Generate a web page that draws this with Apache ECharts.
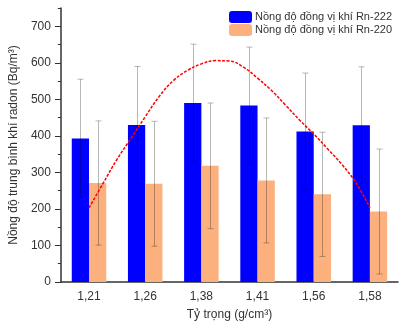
<!DOCTYPE html>
<html>
<head>
<meta charset="utf-8">
<script src="https://cdn.jsdelivr.net/npm/echarts@6/dist/echarts.min.js"></script>
<style>
  html, body { margin: 0; padding: 0; background: #fff; }
  #chart { width: 400px; height: 326px; }
</style>
</head>
<body>
<div id="chart"></div>
<script>
// tỷ trọng (g/cm3)
const categories = ['1,21', '1,26', '1,38', '1,41', '1,56', '1,58'];
// Rn-222
const rn222 = [393, 430, 490, 483, 412, 429];
const rn222Err = [162, 160, 161, 160, 160, 160];
// Rn-220
const rn220 = [271, 269, 318, 278, 240, 193];
const rn220Err = [170, 171, 172, 171, 170, 171];
// red dashed fit (x = category position)
const fitX = [0, 0.25, 0.5, 0.75, 1, 1.25, 1.5, 1.75, 2, 2.25, 2.5, 2.75, 3, 3.25, 3.5, 3.75, 4, 4.25, 4.5, 4.75, 5];
const fitY = [203, 270, 336, 394, 452, 508, 551, 579, 597, 606, 605, 588, 558, 524, 484, 443, 405, 364, 322, 272, 203];
const yTicks = [0, 100, 200, 300, 400, 500, 600, 700];

const FONT = 'Liberation Sans, Arial, sans-serif';
const BAR_W = 0.307;

const chart = echarts.init(document.getElementById('chart'));

function errorSeries(name, means, errs, side) {
  return {
    type: 'custom',
    name: name + '-err',
    xAxisIndex: 0,
    yAxisIndex: 0,
    z: 5,
    data: means.map((m, i) => [i, m, errs[i]]),
    renderItem: function (params, api) {
      const i = api.value(0), m = api.value(1), e = api.value(2);
      const band = api.size([1, 0])[0];
      const off = side * band * BAR_W / 2;
      const top = api.coord([i, m + e]);
      const bot = api.coord([i, m - e]);
      const x = Math.round(top[0] + off) + 0.5;
      const style = { stroke: 'rgba(0,0,0,0.28)', lineWidth: 1 };
      return {
        type: 'group',
        children: [
          { type: 'line', shape: { x1: x, y1: top[1], x2: x, y2: bot[1] }, style },
          { type: 'line', shape: { x1: x - 3, y1: top[1], x2: x + 3, y2: top[1] }, style },
          { type: 'line', shape: { x1: x - 3, y1: bot[1], x2: x + 3, y2: bot[1] }, style }
        ]
      };
    }
  };
}

const option = {
  animation: false,
  textStyle: { fontFamily: FONT },
  grid: { left: 56, right: 2, top: 8, bottom: 42 },
  legend: {
    orient: 'vertical',
    right: 3,
    top: 6,
    align: 'left',
    itemWidth: 23,
    itemHeight: 12,
    itemGap: 1,
    data: ['Nồng độ đồng vị khí Rn-222', 'Nồng độ đồng vị khí Rn-220'],
    textStyle: { fontFamily: FONT, fontSize: 11, color: '#333', padding: [0, 0, 0, -2] }
  },
  xAxis: [
    {
      type: 'category',
      data: categories,
      position: 'bottom',
      name: 'Tỷ trọng (g/cm³)',
      nameLocation: 'middle',
      nameGap: 27,
      nameTextStyle: { fontFamily: FONT, fontSize: 12, color: '#333' },
      axisLine: { onZero: false, lineStyle: { color: '#333', width: 1.5 } },
      axisTick: { alignWithLabel: true, length: 5, lineStyle: { color: '#333' } },
      axisLabel: { fontFamily: FONT, fontSize: 12, color: '#333', margin: 9 }
    },
    {
      type: 'category',
      data: categories,
      position: 'bottom',
      axisLine: { show: false, onZero: false },
      axisTick: { length: 2.5, lineStyle: { color: '#333' } },
      axisLabel: { show: false }
    },
    {
      type: 'value',
      min: -0.5,
      max: 5.5,
      axisLine: { onZero: false },
      show: false
    }
  ],
  yAxis: [
    {
      type: 'value',
      min: 0,
      max: 750,
      interval: 50,
      name: 'Nồng độ trung bình khí radon (Bq/m³)',
      nameLocation: 'middle',
      nameGap: 36,
      nameTextStyle: { fontFamily: FONT, fontSize: 12, color: '#333' },
      splitLine: { show: false },
      axisLine: { show: true, onZero: false, lineStyle: { color: '#333', width: 1.5 } },
      axisTick: { show: true, length: 3, lineStyle: { color: '#333' } },
      axisLabel: {
        fontFamily: FONT, fontSize: 12, color: '#333', margin: 10,
        formatter: v => (v % 100 === 0 && v <= 700 ? String(v) : '')
      }
    },
    {
      type: 'value',
      min: 0,
      max: 750,
      position: 'left',
      offset: 0,
      splitLine: { show: false },
      axisLine: { show: false, onZero: false },
      axisTick: { show: true, length: 6, customValues: yTicks, lineStyle: { color: '#333' } },
      axisLabel: { show: false }
    }
  ],
  series: [
    {
      name: 'Nồng độ đồng vị khí Rn-222',
      type: 'bar',
      data: rn222,
      barWidth: (BAR_W * 100) + '%',
      barGap: '0%',
      itemStyle: { color: '#0000ff' }
    },
    {
      name: 'Nồng độ đồng vị khí Rn-220',
      type: 'bar',
      data: rn220,
      barWidth: (BAR_W * 100) + '%',
      barGap: '0%',
      itemStyle: { color: '#fbb07e' }
    },
    errorSeries('rn222', rn222, rn222Err, -1),
    errorSeries('rn220', rn220, rn220Err, 1),
    {
      name: 'fit',
      type: 'line',
      xAxisIndex: 2,
      yAxisIndex: 0,
      smooth: 0.4,
      symbol: 'none',
      z: 6,
      data: fitX.map((x, i) => [x, fitY[i]]),
      lineStyle: { color: '#ff0000', width: 1.5, type: [3, 1.5] }
    }
  ]
};

chart.setOption(option);
</script>
</body>
</html>
